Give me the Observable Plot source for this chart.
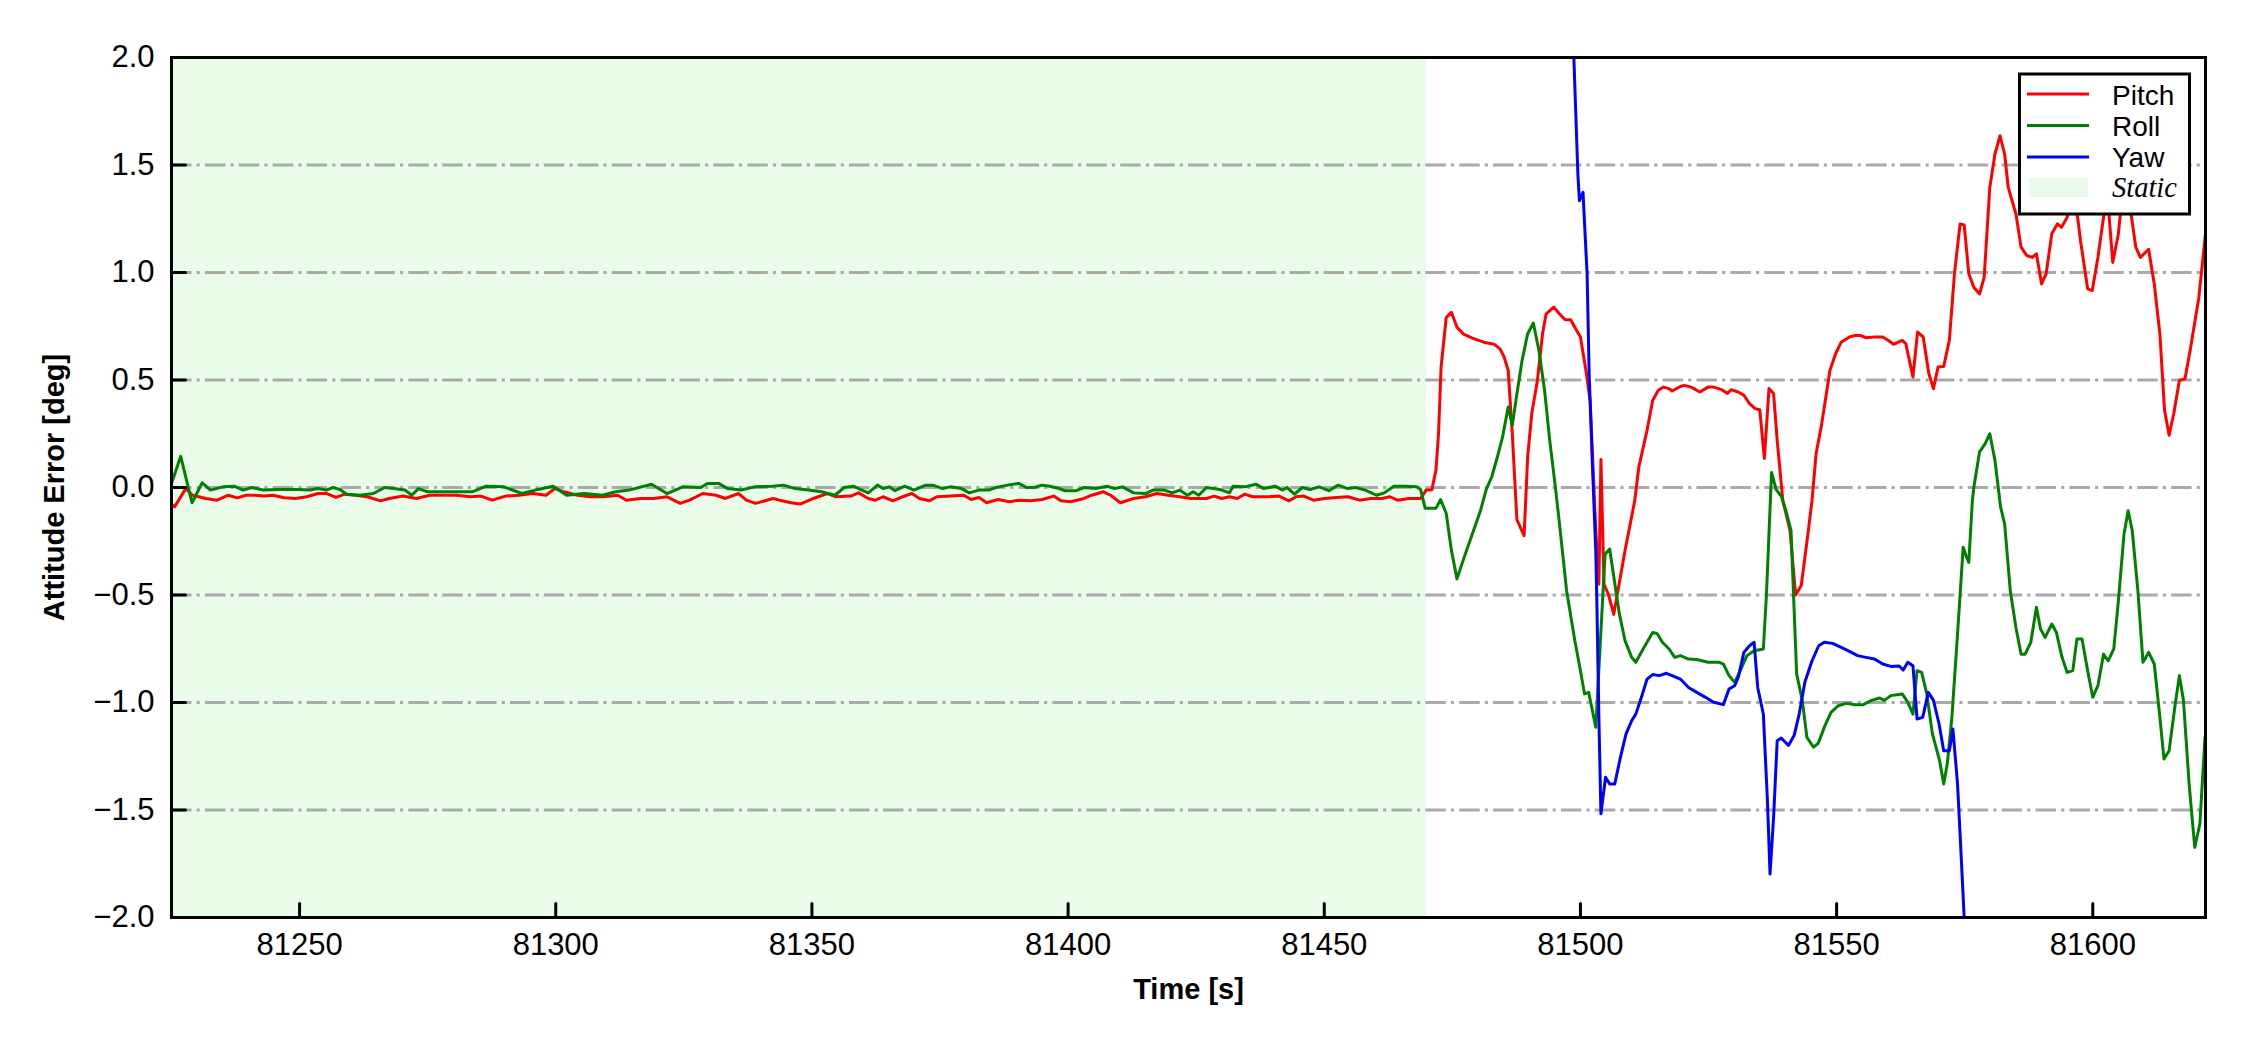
<!DOCTYPE html>
<html><head><meta charset="utf-8">
<script src="https://cdn.jsdelivr.net/npm/d3@7"></script>
<script src="https://cdn.jsdelivr.net/npm/@observablehq/plot@0.6"></script>
<style>
html,body{margin:0;padding:0;background:#fff;}
#wrap{position:relative;width:2250px;height:1050px;}
#wrap svg{display:block;}
#legend{position:absolute;left:0;top:0;pointer-events:none;}
</style></head><body>
<div id="wrap"></div>
<script>
// ---- data: [time (s), attitude error (deg)] ----
const pitch = [[81225.0,-0.08],[81225.6,-0.09],[81227.8,-0.005],[81229.1,-0.036],[81231.7,-0.051],[81233.9,-0.059],[81236.1,-0.036],[81237.8,-0.048],[81239.6,-0.036],[81241.3,-0.036],[81243.1,-0.040],[81244.8,-0.036],[81247.0,-0.048],[81249.2,-0.051],[81251.4,-0.043],[81253.6,-0.028],[81255.3,-0.028],[81257.1,-0.046],[81258.8,-0.031],[81261.0,-0.036],[81263.2,-0.043],[81265.8,-0.062],[81267.5,-0.051],[81270.2,-0.040],[81272.8,-0.051],[81275.4,-0.036],[81278.0,-0.036],[81280.6,-0.036],[81283.3,-0.043],[81285.4,-0.040],[81287.6,-0.059],[81290.2,-0.040],[81292.8,-0.036],[81295.5,-0.028],[81298.1,-0.036],[81299.8,-0.005],[81301.6,-0.020],[81304.2,-0.036],[81306.8,-0.043],[81309.4,-0.043],[81312.1,-0.036],[81313.8,-0.059],[81316.5,-0.051],[81319.1,-0.051],[81321.7,-0.043],[81323.0,-0.059],[81324.3,-0.074],[81326.1,-0.059],[81328.7,-0.028],[81331.3,-0.036],[81333.1,-0.051],[81335.7,-0.028],[81337.2,-0.059],[81339.0,-0.074],[81342.4,-0.051],[81344.2,-0.062],[81345.9,-0.071],[81347.7,-0.077],[81350.3,-0.051],[81353.0,-0.028],[81354.7,-0.043],[81357.6,-0.040],[81359.1,-0.025],[81361.0,-0.051],[81362.4,-0.059],[81363.9,-0.043],[81365.8,-0.062],[81367.7,-0.043],[81369.5,-0.028],[81371.0,-0.051],[81372.9,-0.062],[81374.4,-0.043],[81377.0,-0.040],[81379.6,-0.036],[81381.1,-0.056],[81382.6,-0.046],[81384.1,-0.071],[81386.3,-0.056],[81388.6,-0.066],[81390.4,-0.059],[81392.7,-0.062],[81394.9,-0.056],[81397.2,-0.040],[81398.6,-0.062],[81400.5,-0.066],[81403.1,-0.051],[81404.6,-0.036],[81406.9,-0.020],[81408.3,-0.036],[81410.2,-0.071],[81412.8,-0.051],[81415.1,-0.043],[81417.3,-0.028],[81419.5,-0.036],[81421.8,-0.043],[81424.0,-0.051],[81427.0,-0.051],[81428.5,-0.040],[81430.0,-0.051],[81431.5,-0.043],[81433.0,-0.051],[81434.5,-0.031],[81436.0,-0.043],[81439.0,-0.043],[81441.2,-0.040],[81443.1,-0.062],[81444.5,-0.043],[81446.0,-0.040],[81447.9,-0.059],[81450.1,-0.051],[81452.4,-0.046],[81454.6,-0.043],[81456.9,-0.059],[81459.1,-0.051],[81461.3,-0.051],[81462.8,-0.043],[81464.3,-0.059],[81466.5,-0.051],[81468.8,-0.051],[81469.9,-0.012],[81471.0,-0.010],[81471.8,0.08],[81472.3,0.25],[81472.8,0.56],[81473.8,0.79],[81474.8,0.815],[81475.9,0.746],[81477.1,0.715],[81478.9,0.695],[81481.1,0.676],[81483.2,0.666],[81484.3,0.645],[81485.1,0.607],[81485.9,0.545],[81486.7,0.25],[81487.6,-0.15],[81489.0,-0.224],[81489.7,0.142],[81490.5,0.344],[81491.6,0.498],[81492.6,0.715],[81493.3,0.808],[81494.8,0.839],[81495.9,0.808],[81497.0,0.78],[81498.1,0.78],[81498.9,0.745],[81500.0,0.70],[81501.1,0.54],[81501.9,0.40],[81503.0,-0.20],[81503.6,-0.45],[81504.0,0.13],[81504.6,-0.45],[81505.5,-0.50],[81506.5,-0.59],[81508.7,-0.294],[81510.6,-0.061],[81511.4,0.096],[81513.0,0.266],[81514.1,0.405],[81515.2,0.452],[81516.2,0.467],[81517.3,0.46],[81517.9,0.449],[81519.5,0.47],[81520.3,0.475],[81521.6,0.467],[81523.3,0.444],[81524.9,0.467],[81526.0,0.467],[81527.6,0.455],[81528.7,0.437],[81529.4,0.455],[81530.8,0.444],[81531.9,0.429],[81533.0,0.39],[81534.1,0.367],[81535.0,0.362],[81535.9,0.135],[81536.8,0.46],[81537.7,0.437],[81538.4,0.22],[81539.5,-0.06],[81540.9,-0.20],[81542.0,-0.50],[81543.1,-0.456],[81544.4,-0.216],[81545.2,-0.06],[81546.0,0.158],[81547.1,0.297],[81548.7,0.545],[81549.8,0.622],[81550.9,0.676],[81552.5,0.70],[81553.6,0.707],[81554.7,0.707],[81555.7,0.697],[81557.4,0.70],[81559.0,0.70],[81560.1,0.684],[81561.1,0.666],[81562.8,0.684],[81563.5,0.669],[81564.9,0.514],[81565.8,0.723],[81566.9,0.70],[81568.0,0.53],[81568.9,0.46],[81569.8,0.56],[81570.9,0.563],[81572.0,0.684],[81573.0,0.994],[81574.1,1.226],[81574.9,1.221],[81575.8,0.994],[81576.8,0.93],[81577.9,0.90],[81578.8,0.978],[81579.9,1.396],[81580.9,1.55],[81581.9,1.636],[81582.8,1.55],[81583.5,1.396],[81585.0,1.272],[81586.0,1.118],[81587.1,1.079],[81588.2,1.07],[81589.0,1.087],[81590.0,0.947],[81590.9,0.994],[81592.0,1.18],[81593.1,1.226],[81593.9,1.21],[81595.0,1.257],[81596.3,1.40],[81597.6,1.149],[81599.0,0.924],[81599.9,0.916],[81601.0,1.07],[81602.1,1.257],[81602.8,1.38],[81603.9,1.047],[81605.0,1.18],[81606.1,1.45],[81607.3,1.30],[81608.4,1.118],[81609.3,1.07],[81610.9,1.108],[81612.0,0.947],[81613.1,0.714],[81614.0,0.36],[81614.9,0.243],[81615.8,0.343],[81616.9,0.498],[81618.0,0.506],[81619.0,0.637],[81620.7,0.884],[81622.0,1.18]];

const roll = [[81225.0,0.019],[81226.8,0.145],[81229.0,-0.071],[81231.0,0.022],[81232.6,-0.012],[81235.0,0.003],[81237.2,0.006],[81239.0,-0.012],[81240.7,0.0],[81242.9,-0.012],[81246.0,-0.009],[81249.5,-0.009],[81252.1,-0.012],[81253.5,-0.005],[81255.2,-0.012],[81256.5,0.0],[81257.9,-0.009],[81259.2,-0.031],[81261.8,-0.036],[81264.4,-0.028],[81266.6,0.0],[81268.4,-0.005],[81270.6,-0.012],[81271.9,-0.036],[81273.2,-0.005],[81275.0,-0.02],[81277.6,-0.02],[81280.2,-0.02],[81283.7,-0.02],[81286.4,0.006],[81289.9,0.003],[81293.4,-0.028],[81296.0,-0.012],[81299.5,0.006],[81302.1,-0.036],[81305.6,-0.028],[81309.1,-0.036],[81311.7,-0.02],[81314.3,-0.012],[81318.7,0.015],[81321.7,-0.028],[81324.8,0.003],[81328.3,0.0],[81329.6,0.019],[81331.8,0.019],[81333.5,-0.005],[81336.2,-0.012],[81338.8,0.003],[81342.3,0.006],[81344.5,0.011],[81346.7,-0.005],[81349.3,-0.012],[81351.9,-0.02],[81354.5,-0.036],[81356.3,0.0],[81358.1,0.006],[81359.1,-0.005],[81361.0,-0.025],[81362.8,0.011],[81363.9,-0.005],[81365.1,0.003],[81366.2,-0.015],[81368.1,0.006],[81369.9,-0.012],[81372.2,0.011],[81373.6,0.011],[81375.5,-0.005],[81377.0,0.003],[81379.2,-0.005],[81380.7,-0.025],[81382.6,-0.012],[81384.5,-0.012],[81385.9,0.0],[81388.2,0.011],[81390.4,0.019],[81391.9,0.0],[81393.4,0.0],[81394.9,0.011],[81396.4,0.006],[81398.3,-0.005],[81399.4,-0.015],[81401.6,-0.015],[81403.1,0.0],[81405.4,-0.005],[81407.6,0.006],[81409.1,-0.005],[81410.6,0.003],[81412.8,-0.025],[81415.1,-0.028],[81416.6,-0.012],[81418.8,-0.012],[81420.3,-0.025],[81421.8,-0.012],[81423.3,-0.036],[81424.4,-0.02],[81425.5,-0.036],[81427.0,0.0],[81429.6,-0.009],[81431.5,-0.025],[81432.2,0.006],[81434.5,0.003],[81436.7,0.015],[81438.2,-0.005],[81440.4,0.006],[81441.9,-0.012],[81442.7,0.0],[81444.2,-0.031],[81445.7,0.0],[81447.2,-0.009],[81449.0,0.003],[81450.9,-0.015],[81452.7,0.011],[81454.6,-0.005],[81456.1,0.0],[81458.0,-0.012],[81460.2,-0.036],[81461.7,-0.025],[81463.6,0.006],[81465.8,0.006],[81468.0,0.003],[81468.8,-0.009],[81469.7,-0.097],[81471.8,-0.097],[81472.7,-0.056],[81473.8,-0.12],[81474.8,-0.29],[81475.9,-0.425],[81477.3,-0.325],[81478.9,-0.216],[81480.5,-0.107],[81481.6,-0.01],[81482.7,0.05],[81483.8,0.143],[81484.8,0.235],[81485.9,0.374],[81486.7,0.29],[81487.6,0.436],[81488.6,0.59],[81489.7,0.715],[81490.8,0.765],[81491.9,0.637],[81493.0,0.452],[81494.0,0.22],[81495.1,0.003],[81495.9,-0.167],[81497.3,-0.48],[81498.9,-0.712],[81500.0,-0.852],[81500.8,-0.96],[81501.6,-0.953],[81503.0,-1.115],[81504.8,-0.31],[81505.7,-0.286],[81507.6,-0.588],[81508.7,-0.712],[81510.0,-0.79],[81510.8,-0.813],[81512.4,-0.744],[81514.1,-0.674],[81515.0,-0.68],[81516.0,-0.72],[81517.3,-0.751],[81518.4,-0.79],[81519.5,-0.782],[81521.1,-0.798],[81522.7,-0.80],[81524.9,-0.813],[81527.1,-0.813],[81527.9,-0.821],[81529.0,-0.875],[81530.1,-0.906],[81531.2,-0.852],[81532.5,-0.782],[81533.9,-0.759],[81535.7,-0.751],[81536.3,-0.5],[81537.3,0.07],[81538.2,-0.01],[81539.2,-0.04],[81540.0,-0.1],[81541.1,-0.2],[81542.2,-0.867],[81543.3,-0.99],[81544.2,-1.162],[81545.5,-1.208],[81546.4,-1.19],[81547.6,-1.115],[81548.9,-1.046],[81550.3,-1.015],[81551.9,-1.004],[81553.6,-1.01],[81555.2,-1.01],[81556.8,-0.99],[81558.4,-0.979],[81559.3,-0.99],[81560.6,-0.968],[81562.8,-0.96],[81563.9,-0.999],[81564.9,-1.054],[81565.7,-0.852],[81566.6,-0.86],[81567.6,-0.96],[81568.7,-1.146],[81570.1,-1.27],[81570.9,-1.379],[81571.6,-1.285],[81572.5,-1.069],[81573.6,-0.682],[81574.7,-0.278],[81575.3,-0.32],[81575.8,-0.348],[81576.5,-0.06],[81576.8,0.003],[81577.9,0.166],[81579.0,0.204],[81579.9,0.25],[81580.9,0.127],[81582.0,-0.09],[81582.8,-0.17],[81583.9,-0.48],[81585.0,-0.651],[81586.0,-0.775],[81586.8,-0.775],[81587.9,-0.72],[81589.0,-0.557],[81589.8,-0.658],[81590.7,-0.697],[81592.0,-0.635],[81592.9,-0.674],[81594.0,-0.79],[81595.0,-0.86],[81596.1,-0.852],[81596.9,-0.705],[81597.9,-0.705],[81599.0,-0.852],[81600.0,-0.976],[81601.0,-0.922],[81602.1,-0.775],[81603.0,-0.806],[81604.1,-0.751],[81605.0,-0.526],[81606.1,-0.216],[81606.9,-0.108],[81607.7,-0.2],[81608.8,-0.48],[81609.8,-0.813],[81610.9,-0.767],[81612.0,-0.821],[81613.1,-1.069],[81613.9,-1.263],[81614.9,-1.224],[81616.0,-1.023],[81616.9,-0.875],[81617.7,-0.991],[81618.8,-1.379],[81619.9,-1.674],[81620.9,-1.565],[81621.9,-1.162]];

const yaw = [[81497.7,2.7],[81499.5,1.458],[81499.8,1.334],[81500.5,1.373],[81501.3,0.994],[81501.7,0.53],[81502.4,0.065],[81503.0,-0.3],[81503.2,-0.526],[81503.6,-1.069],[81504.0,-1.518],[81504.9,-1.348],[81505.7,-1.379],[81506.7,-1.379],[81507.8,-1.255],[81508.9,-1.146],[81510.0,-1.085],[81510.8,-1.054],[81511.9,-0.976],[81513.0,-0.891],[81514.1,-0.87],[81515.4,-0.875],[81516.8,-0.864],[81517.9,-0.875],[81519.5,-0.891],[81521.1,-0.93],[81522.7,-0.953],[81524.4,-0.976],[81526.0,-0.999],[81527.9,-1.01],[81529.0,-0.937],[81530.1,-0.922],[81530.8,-0.883],[81531.9,-0.767],[81533.0,-0.736],[81533.9,-0.72],[81534.6,-0.93],[81535.7,-1.054],[81536.5,-1.457],[81537.0,-1.798],[81537.7,-1.534],[81538.4,-1.178],[81539.2,-1.165],[81540.6,-1.2],[81541.7,-1.154],[81542.7,-1.054],[81543.8,-0.906],[81545.2,-0.806],[81546.5,-0.736],[81547.6,-0.72],[81549.2,-0.725],[81550.9,-0.744],[81552.5,-0.762],[81554.1,-0.782],[81555.7,-0.79],[81557.4,-0.798],[81559.0,-0.821],[81560.6,-0.832],[81562.2,-0.83],[81563.0,-0.849],[81563.9,-0.813],[81564.9,-0.829],[81565.7,-1.077],[81566.8,-1.069],[81567.9,-0.953],[81568.9,-0.99],[81570.0,-1.1],[81570.9,-1.224],[81572.0,-1.224],[81572.7,-1.123],[81573.6,-1.379],[81574.1,-1.612],[81574.9,-2.0],[81575.9,-2.6]];

const seriesNames = ["Pitch", "Roll", "Yaw"];
const seriesColors = ["#ff0000", "#008000", "#0000ff"];
const staticLabel = "Static";
const staticColor = "#e9fce9";
const staticSpan = [[81225, 81470]];
const xDomain = [81225, 81622];
const yDomain = [-2, 2];
const xTicks = [81250, 81300, 81350, 81400, 81450, 81500, 81550, 81600];
const yTicks = [-2, -1.5, -1, -0.5, 0, 0.5, 1, 1.5, 2];
const gridLevels = [-1.5, -1, -0.5, 0, 0.5, 1, 1.5];
const xLabel = "Time [s]";
const yLabel = "Attitude Error [deg]";

// ---- chart ----
const tickShape = {draw(ctx, l) { ctx.moveTo(0, 0); ctx.lineTo(0, -l); }};
const seriesData = [pitch, roll, yaw];

const chart = Plot.plot({
  width: 2250, height: 1050,
  marginLeft: 171, marginRight: 45, marginTop: 57, marginBottom: 133,
  style: {fontFamily: "'Liberation Sans', Arial, sans-serif", fontSize: "31px", background: "white", color: "black"},
  x: {domain: xDomain},
  y: {domain: yDomain},
  marks: [
    Plot.rect(staticSpan, {x1: d => d[0], x2: d => d[1], fill: staticColor}),
    Plot.ruleY(gridLevels, {stroke: "#aaaaaa", strokeWidth: 3, strokeDasharray: "20.5,5.1,3.2,5.1"}),
    ...seriesData.map((s, i) => Plot.line(s, {x: d => d[0], y: d => d[1], stroke: seriesColors[i], strokeWidth: 3, strokeLinejoin: "round", clip: true})),
    Plot.frame({stroke: "black", strokeWidth: 3}),
    Plot.vector(yTicks, {y: d => d, frameAnchor: "left", rotate: 90, length: 14, anchor: "start", shape: tickShape, stroke: "black", strokeWidth: 3}),
    Plot.vector(xTicks, {x: d => d, frameAnchor: "bottom", rotate: 0, length: 14, anchor: "start", shape: tickShape, stroke: "black", strokeWidth: 3}),
    Plot.axisX({ticks: xTicks, tickSize: 0, tickPadding: 15, tickFormat: d => String(d), label: null, fontSize: 31}),
    Plot.axisY({ticks: yTicks, tickSize: 0, tickPadding: 17, tickFormat: d => d.toFixed(1).replace("-", "\u2212"), label: null, fontSize: 31}),
    Plot.text([xLabel], {frameAnchor: "bottom", dy: 61, textAnchor: "middle", lineAnchor: "top", fontWeight: "bold", fontSize: 29}),
    Plot.text([yLabel], {frameAnchor: "left", dx: -117, rotate: -90, textAnchor: "middle", lineAnchor: "middle", fontWeight: "bold", fontSize: 29})
  ]
});

const wrap = document.getElementById("wrap");
wrap.appendChild(chart);

// ---- legend (inside plot, upper right) ----
const ns = "http://www.w3.org/2000/svg";
const lg = document.createElementNS(ns, "svg");
lg.setAttribute("id", "legend");
lg.setAttribute("width", 2250);
lg.setAttribute("height", 1050);
function el(tag, attrs, text) {
  const e = document.createElementNS(ns, tag);
  for (const k in attrs) e.setAttribute(k, attrs[k]);
  if (text != null) e.textContent = text;
  lg.appendChild(e);
  return e;
}
el("rect", {x: 2019.5, y: 74, width: 170, height: 140, fill: "white", stroke: "black", "stroke-width": 3});
seriesNames.forEach((name, i) => {
  const cy = 94 + i * 31.5;
  el("line", {x1: 2027, x2: 2089, y1: cy, y2: cy, stroke: seriesColors[i], "stroke-width": 3});
  el("text", {x: 2112, y: 105 + i * 31, "font-family": "'Liberation Sans', Arial, sans-serif", "font-size": 28, fill: "black"}, name);
});
el("rect", {x: 2029, y: 178, width: 59, height: 19, fill: staticColor});
el("text", {x: 2112, y: 197, "font-family": "'Liberation Serif', 'Times New Roman', serif", "font-style": "italic", "font-size": 28.5, fill: "black"}, staticLabel);
wrap.appendChild(lg);
</script>
</body></html>
